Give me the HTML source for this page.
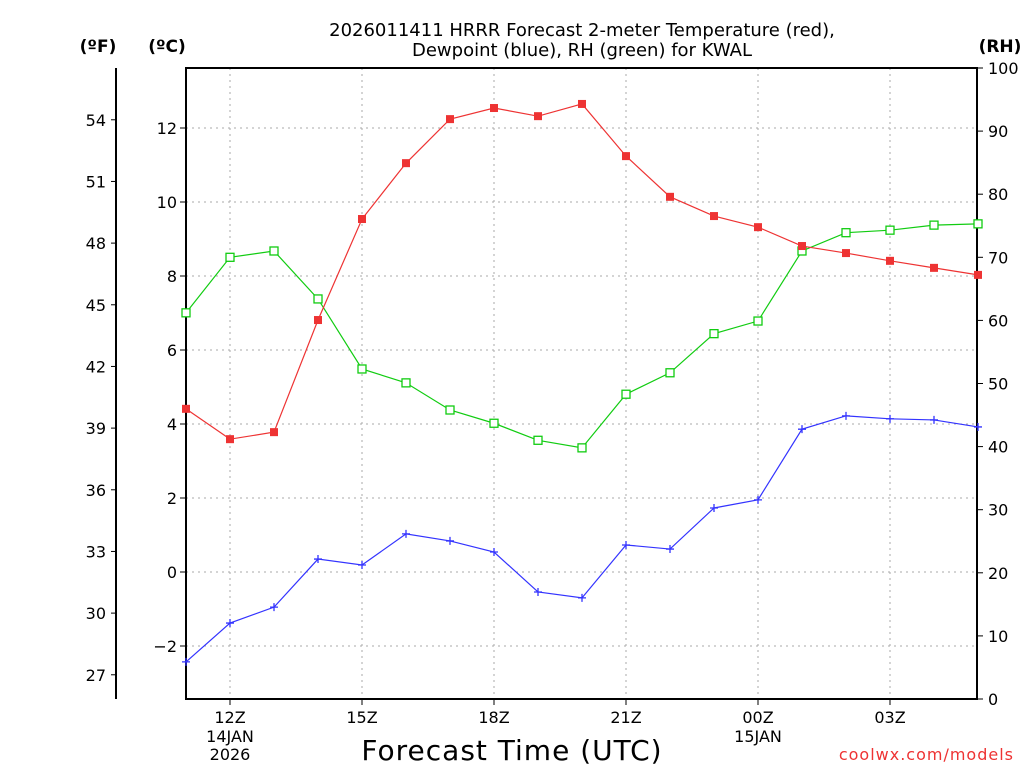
<!DOCTYPE html>
<html><head><meta charset="utf-8"><style>
body{margin:0;background:#fff}
svg{display:block;font-family:"DejaVu Sans","Liberation Sans",sans-serif}
</style></head><body>
<svg id="c" width="1024" height="768" xmlns="http://www.w3.org/2000/svg"></svg>
<script>
const hours=[11,12,13,14,15,16,17,18,19,20,21,22,23,24,25,26,27,28,29];
const tempC=[4.41,3.59,3.78,6.81,9.54,11.05,12.24,12.54,12.32,12.65,11.24,10.14,9.62,9.32,8.81,8.62,8.41,8.22,8.03];
const dewC=[-2.43,-1.38,-0.95,0.35,0.19,1.03,0.84,0.54,-0.54,-0.70,0.73,0.62,1.73,1.95,3.86,4.22,4.14,4.11,3.92];
const rh=[61.2,70.0,71.0,63.4,52.3,50.1,45.8,43.7,41.0,39.8,48.3,51.7,57.9,59.9,71.0,73.9,74.3,75.1,75.3];
const cTicks=[-2,0,2,4,6,8,10,12];
const fTicks=[27,30,33,36,39,42,45,48,51,54];
const rhTicks=[0,10,20,30,40,50,60,70,80,90,100];
const xTickHours=[12,15,18,21,24,27];
const xTickLabels=["12Z","15Z","18Z","21Z","00Z","03Z"];
const L=186,R=977,T=68,B=699;
const x=h=>L+(h-11)*44;
const yC=c=>572-c*37;
const yF=f=>yC((f-32)/1.8);
const yR=r=>B-r*(B-T)/100;
const svg=document.getElementById('c');
const NS="http://www.w3.org/2000/svg";
function el(t,a,txt){const e=document.createElementNS(NS,t);for(const k in a)e.setAttribute(k,a[k]);if(txt!=null)e.textContent=txt;svg.appendChild(e);return e;}
xTickHours.forEach(h=>{const g=el('line',{x1:x(h),x2:x(h),y1:T,y2:B,stroke:'#aaa','stroke-dasharray':'2,4'});

});
cTicks.forEach(c=>{const g=el('line',{x1:L,x2:R,y1:yC(c),y2:yC(c),stroke:'#aaa','stroke-dasharray':'2,4'});

});
const fr=el('rect',{x:L,y:T,width:R-L,height:B-T,fill:'none',stroke:'#000','stroke-width':2});


const fa=el('line',{x1:116,x2:116,y1:T,y2:B,stroke:'#000','stroke-width':2});


cTicks.forEach(c=>{el('line',{x1:L-6,x2:L,y1:yC(c),y2:yC(c),stroke:'#000'});
const t=el('text',{x:L-9,y:yC(c)+6,'text-anchor':'end','font-size':16},c<0?'\u22122':String(c));

});
fTicks.forEach(f=>{el('line',{x1:111,x2:116,y1:yF(f),y2:yF(f),stroke:'#000'});
const t=el('text',{x:106,y:yF(f)+6,'text-anchor':'end','font-size':16},String(f));

});
rhTicks.forEach(r=>{el('line',{x1:R,x2:R+6,y1:yR(r),y2:yR(r),stroke:'#000'});
const t=el('text',{x:R+11,y:yR(r)+6,'font-size':16},String(r));

});
xTickHours.forEach((h,i)=>{el('line',{x1:x(h),x2:x(h),y1:B,y2:B+6,stroke:'#000'});
const t=el('text',{x:x(h),y:B+24,'text-anchor':'middle','font-size':16},xTickLabels[i]);

});
[["14JAN",12,742],["2026",12,760],["15JAN",24,742]].forEach(d=>{const t=el('text',{x:x(d[1]),y:d[2],'text-anchor':'middle','font-size':16},d[0]);

});
const t1=el('text',{x:582,y:36,'text-anchor':'middle','font-size':18},'2026011411 HRRR Forecast 2-meter Temperature (red),');


const t2=el('text',{x:582,y:56,'text-anchor':'middle','font-size':18},'Dewpoint (blue), RH (green) for KWAL');


[["(ºF)",98],["(ºC)",167],["(RH)",1000]].forEach(d=>{const t=el('text',{x:d[1],y:52,'text-anchor':'middle','font-size':17,'font-weight':'bold'},d[0]);

});
const xt=el('text',{x:512,y:760,'text-anchor':'middle','font-size':28,'letter-spacing':'1'},'Forecast Time (UTC)');


const wm=el('text',{x:1014,y:760,'text-anchor':'end','font-size':16,fill:'#e33','letter-spacing':'1'},'coolwx.com/models');


function series(vals,yf,color,marker,name){
const pts=vals.map((v,i)=>x(hours[i])+','+yf(v)).join(' ');
const p=el('polyline',{points:pts,fill:'none',stroke:color,'stroke-width':1.2});


vals.forEach((v,i)=>{const cx=x(hours[i]),cy=yf(v);let m;
if(marker=='fill'){m=el('rect',{x:cx-4,y:cy-4,width:8,height:8,fill:color});}
else if(marker=='open'){m=el('rect',{x:cx-4,y:cy-4,width:8,height:8,fill:'#fff',stroke:color,'stroke-width':1.3});}
else{m=el('path',{d:`M${cx-4},${cy}H${cx+4}M${cx},${cy-4}V${cy+4}`,stroke:color,'stroke-width':1.3});}

});
}
series(rh,yR,'#11cc11','open','rh');
series(dewC,yC,'#3333ff','plus','dewpoint');
series(tempC,yC,'#ee3333','fill','temperature');
</script>
</body></html>
